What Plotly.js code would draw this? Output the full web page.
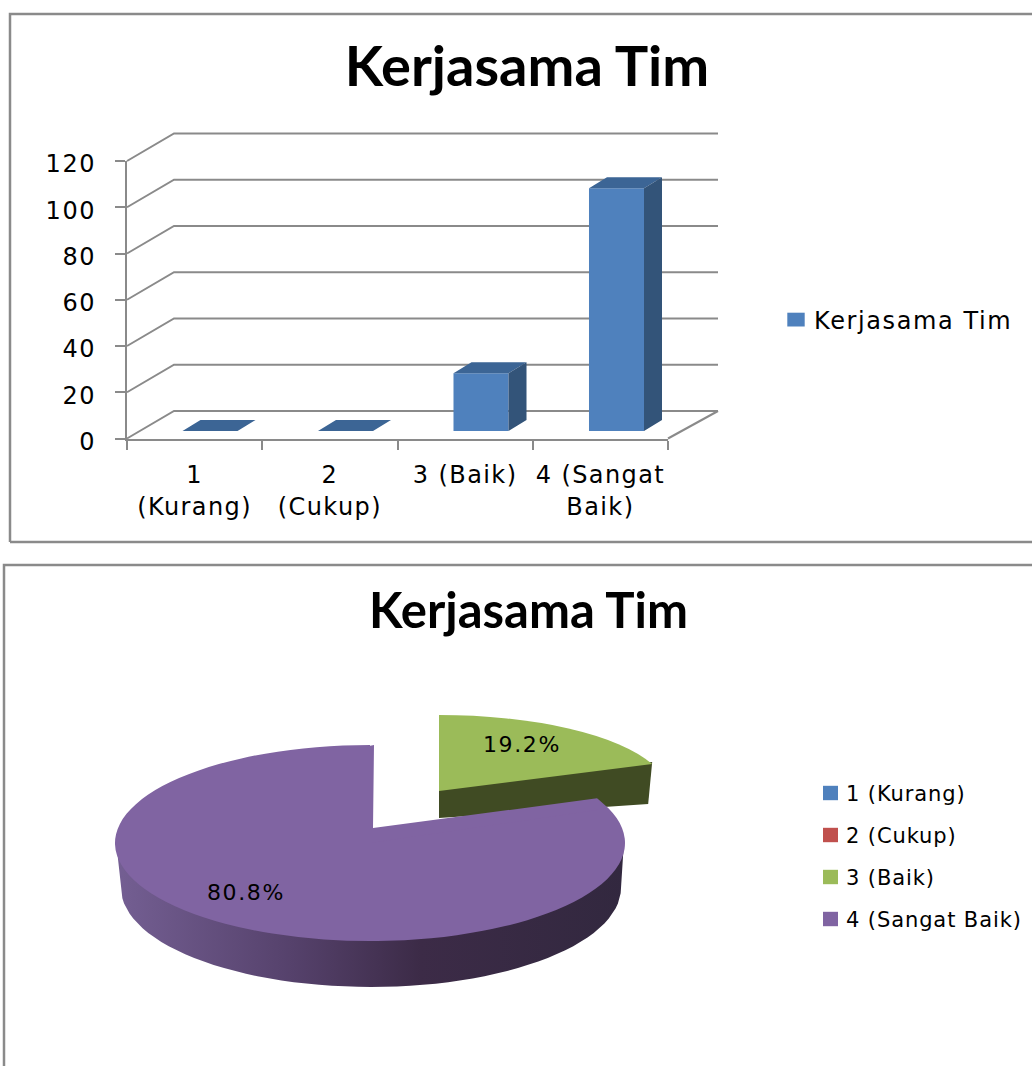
<!DOCTYPE html>
<html>
<head>
<meta charset="utf-8">
<script src="https://cdn.plot.ly/plotly-3.0.1.min.js"></script>
<style>html,body{margin:0;padding:0;background:#fff}#c{width:1032px;height:1066px}</style>
</head>
<body>
<div id="c"></div>
<script>
var title = 'Kerjasama Tim';
var categories = ['1 (Kurang)', '2 (Cukup)', '3 (Baik)', '4 (Sangat Baik)'];
var tickLabels = ['1<br>(Kurang)', '2<br>(Cukup)', '3 (Baik)', '4 (Sangat<br>Baik)'];
var values = [0, 0, 25, 105];
var yTicks = [0, 20, 40, 60, 80, 100, 120];
var sliceColors = ['#4F81BD', '#C0504D', '#9BBB59', '#8064A2'];

var W = 1032, H = 1066, FONT = 'DejaVu Sans, sans-serif', GRAY = '#8A8A8A';
var idx = categories.map(function (_, i) { return i; });
var total = values.reduce(function (a, b) { return a + b; }, 0);
var pct = values.map(function (v) { return (v / total * 100).toFixed(1) + '%'; });

// bar chart geometry, px
var FX0 = 127, FX1 = 668, FY0 = 438.5, FY1 = 161, WDX = 47, WDY = -27.5, WRIGHT = 718;
var BX0 = 142.25, BX1 = 684.25, BY0 = 431, BY1 = 153.5, BW = 0.406, DX = 18 / 135.5, DY = 11 / 2.3125;
var py = function (v) { return FY0 + (FY1 - FY0) * v / 120; };

// wall lines of the box
var gx = [], gy = [];
yTicks.forEach(function (v) {
  gx.push(FX0, FX0 + WDX, WRIGHT, null);
  gy.push(py(v), py(v) + WDY, py(v) + WDY, null);
});
gx.push(FX1, WRIGHT); gy.push(FY0, FY0 + WDY);

// pie geometry, px
var PURPLE = { cx: 370, cy: 843, rx: 255, ry: 98 };
var GREEN = { cx: 439, cy: 791, rx: 228, ry: 76 };
var P_APEX = [373, 828], NOTCH_ANGLE = Math.asin(227 / 255);
var ang = values[2] / total * 2 * Math.PI;
function ell(e, t) { return [e.cx + e.rx * Math.sin(t), e.cy - e.ry * Math.cos(t)]; }
function arc(e, a, b, n) { var o = []; for (var i = 0; i <= n; i++) o.push(ell(e, a + (b - a) * i / n)); return o; }
function xs(p) { return p.map(function (q) { return q[0]; }); }
function ys(p) { return p.map(function (q) { return q[1]; }); }

// side wall runs a little under the top face so no seam shows
var WALL_T = { cx: 370, cy: 841, rx: 254, ry: 94 };
var WALL_B = { cx: 371, cy: 888, rx: 250, ry: 99 };
var wall = arc(WALL_T, Math.PI / 2, 3 * Math.PI / 2, 60).concat(arc(WALL_B, 3 * Math.PI / 2, Math.PI / 2, 60));
var gEnd = ell(GREEN, ang);
var greenWall = [[GREEN.cx, GREEN.cy - 2], [gEnd[0], gEnd[1] - 2], [gEnd[0] - 4, gEnd[1] + 40], [GREEN.cx, GREEN.cy + 27]];
var pEnd = ell(PURPLE, ang);
// the top face has its apex above the ellipse centre (perspective): fill that part beneath the slice
var patch = [[PURPLE.cx - 6, PURPLE.cy - PURPLE.ry + 2], [P_APEX[0] + 1, PURPLE.cy - PURPLE.ry], P_APEX]
  .concat(arc(PURPLE, NOTCH_ANGLE, ang, 8))
  .concat([[pEnd[0] - 6, pEnd[1] + 10], [PURPLE.cx - 6, PURPLE.cy + 10]]);

function stage(x, y, extra) {
  return Object.assign({ type: 'scatter', x: x, y: y, xaxis: 'x', yaxis: 'y', showlegend: false, hoverinfo: 'skip', mode: 'lines', line: { width: 0 } }, extra);
}
function facePoly(fn) {
  var x = [], y = [];
  idx.forEach(function (i) { fn(i, values[i]).forEach(function (p) { x.push(p[0]); y.push(p[1]); }); x.push(null); y.push(null); });
  return { x: x, y: y };
}
var topF = facePoly(function (i, v) {
  var a = i - BW / 2, b = i + BW / 2;
  return [[a, v], [b, v], [b + DX, v + DY], [a + DX, v + DY], [a, v]];
});
var sideF = facePoly(function (i, v) {
  var b = i + BW / 2;
  return [[b, 0], [b + DX, DY], [b + DX, v + DY], [b, v], [b, 0]];
});

var data = [
  stage(gx, gy, { line: { color: GRAY, width: 2 } }),
  stage(xs(greenWall), ys(greenWall), { fill: 'toself', fillcolor: '#404B23' }),
  stage(xs(wall), ys(wall), { fill: 'toself', fillcolor: '#55416B',
    fillgradient: { type: 'horizontal', colorscale: [[0, '#745F93'], [0.35, '#55416B'], [0.6, '#3C2B47'], [1, '#32283F']] } }),
  stage(xs(patch), ys(patch), { fill: 'toself', fillcolor: sliceColors[3] }),
  { type: 'scatter', x: [-0.5, 3.5], y: [0, 0], xaxis: 'x2', yaxis: 'y2', mode: 'lines', line: { width: 0 }, showlegend: false, hoverinfo: 'skip' },
  { type: 'bar', name: title, x: idx, y: values, width: BW, xaxis: 'x3', yaxis: 'y3', marker: { color: '#4F81BD', line: { width: 0 } }, legend: 'legend' },
  { type: 'scatter', x: topF.x, y: topF.y, xaxis: 'x3', yaxis: 'y3', mode: 'lines', line: { width: 0 }, fill: 'toself', fillcolor: '#3C6595', showlegend: false, hoverinfo: 'skip' },
  { type: 'scatter', x: sideF.x, y: sideF.y, xaxis: 'x3', yaxis: 'y3', mode: 'lines', line: { width: 0 }, fill: 'toself', fillcolor: '#335479', showlegend: false, hoverinfo: 'skip' },
  { type: 'pie', labels: categories, values: values, sort: false, rotation: 0, direction: 'clockwise', pull: [0, 0, 0.3, 0],
    domain: { x: [0.2, 0.8], y: [0.2, 0.8] }, textinfo: 'none', marker: { colors: sliceColors, line: { width: 0 } }, legend: 'legend2', showlegend: true }
];

var shapes = ['M10,542L10,14L' + (W + 4) + ',14', 'M10,542L' + (W + 4) + ',542', 'M4,' + (H + 4) + 'L4,565L' + (W + 4) + ',565'].map(function (p) {
  return { type: 'path', xref: 'x', yref: 'y', layer: 'below', line: { color: GRAY, width: 2.5 }, path: p };
});

function fx(v) { return v / W; }
function fy(v) { return 1 - v / H; }
var hidden = { visible: false, fixedrange: true };

var layout = {
  width: W, height: H, autosize: false, margin: { l: 0, r: 0, t: 0, b: 0, pad: 0 },
  paper_bgcolor: '#fff', plot_bgcolor: 'rgba(0,0,0,0)', font: { family: FONT, color: '#000' },
  title: { text: '<b>' + title + '</b>', x: fx(527), xref: 'paper', xanchor: 'center', y: fy(66), yref: 'paper', yanchor: 'middle',
    font: { family: 'Lato', size: 56, color: '#000' } },
  xaxis: Object.assign({ domain: [0, 1], range: [0, W] }, hidden),
  yaxis: Object.assign({ domain: [0, 1], range: [H, 0] }, hidden),
  xaxis2: { domain: [fx(FX0), fx(FX1)], range: [-0.5, 3.5], anchor: 'y2', fixedrange: true, showgrid: false, zeroline: false,
    showline: true, linecolor: GRAY, linewidth: 2, tickmode: 'array', tickvals: idx, ticktext: tickLabels, tickangle: 0, ticks: '',
    ticklabelstandoff: 14, tickfont: { family: FONT, size: 24, color: '#000' },
    minor: { tickmode: 'array', tickvals: [-0.5, 0.5, 1.5, 2.5, 3.5], ticks: 'outside', ticklen: 9, tickwidth: 2, tickcolor: GRAY, showgrid: false } },
  yaxis2: { domain: [fy(FY0), fy(FY1)], range: [0, 120], anchor: 'x2', fixedrange: true, showgrid: false, zeroline: false,
    showline: true, linecolor: GRAY, linewidth: 2, tickmode: 'array', tickvals: yTicks, ticks: 'outside', ticklen: 10, tickwidth: 2, tickcolor: GRAY,
    ticklabelstandoff: 14, tickfont: { family: FONT, size: 24, color: '#000' } },
  xaxis3: Object.assign({ domain: [fx(BX0), fx(BX1)], range: [-0.5, 3.5], anchor: 'y3' }, hidden),
  yaxis3: Object.assign({ domain: [fy(BY0), fy(BY1)], range: [0, 120], anchor: 'x3' }, hidden),
  showlegend: true,
  legend: { x: fx(774), xanchor: 'left', y: fy(320), yanchor: 'middle', bgcolor: 'rgba(0,0,0,0)', font: { family: FONT, size: 24, color: '#000' } },
  legend2: { x: fx(806), xanchor: 'left', y: fy(780), yanchor: 'top', bgcolor: 'rgba(0,0,0,0)', traceorder: 'normal', font: { family: FONT, size: 21, color: '#000' } },
  shapes: shapes,
  annotations: [
    { xref: 'paper', yref: 'paper', x: fx(528), y: fy(609), text: '<b>' + title + '</b>', showarrow: false, xanchor: 'center', yanchor: 'middle', font: { family: 'Lato', size: 49, color: '#000' } },
    { xref: 'x', yref: 'y', x: 522, y: 744, text: pct[2], showarrow: false, font: { family: FONT, size: 22, color: '#000' } },
    { xref: 'x', yref: 'y', x: 246, y: 892, text: pct[3], showarrow: false, font: { family: FONT, size: 22, color: '#000' } }
  ]
};

var gd = document.getElementById('c');
function spacing(root, sel, px) {
  (root || gd).querySelectorAll(sel).forEach(function (t) { t.style.letterSpacing = px + 'px'; });
}
function finish() {
  var targets = { 2: GREEN, 3: PURPLE };
  var pieCd = gd.calcdata.filter(function (c) { return c[0].trace.type === 'pie'; })[0];
  var r = pieCd[0].r;
  gd.querySelectorAll('.pielayer g.slice').forEach(function (s) {
    var pt = s.__data__, e = pt && targets[pt.i];
    if (!e) return;
    var a = e.rx / r, d = e.ry / r;
    s.setAttribute('transform', 'matrix(' + a + ' 0 0 ' + d + ' ' + (e.cx - pt.cxFinal * a) + ' ' + (e.cy - pt.cyFinal * d) + ')');
  });
  var l1 = gd.querySelector('g.legend'), l2 = gd.querySelector('g.legend2');
  [l1, l2].forEach(function (l) {
    if (!l) return;
    l.removeAttribute('clip-path');
    l.querySelectorAll('[clip-path]').forEach(function (b) { b.removeAttribute('clip-path'); b.style.clipPath = 'none'; });
    l.querySelectorAll('[style*="clip-path"]').forEach(function (b) { b.style.clipPath = 'none'; });
  });
  l1.querySelectorAll('.legendpoints path').forEach(function (p) {
    p.setAttribute('transform', 'translate(22,0) scale(1.45,1.15)');
  });
  if (l2) {
    l2.querySelectorAll('.traces').forEach(function (t, i) {
      t.setAttribute('transform', 'translate(0,' + (13 + i * 42) + ')');
      t.querySelectorAll('.legendpoints path').forEach(function (p) {
        p.setAttribute('transform', 'translate(24.5,0) scale(1.25,1.2)');
      });
    });
    spacing(l2, 'text', 0.9);
  }
  // the reference is a horizontally stretched screenshot: open the small text up to the same width
  spacing(l1, 'text', 1.6);
  spacing(gd, '.x2tick text', 1.4);
  spacing(gd, '.y2tick text', 1.6);
  var ann = gd.querySelectorAll('.annotation');
  [1, 2].forEach(function (i) { if (ann[i]) { var t = ann[i].querySelector('text'); if (t) t.style.letterSpacing = '1.6px'; } });
  gd.querySelectorAll('.y2tick text').forEach(function (t) {
    t.setAttribute('y', (parseFloat(t.getAttribute('y')) || 0) + 3);
  });
}
Plotly.newPlot(gd, data, layout, { displayModeBar: false, staticPlot: true }).then(finish);
</script>
</body>
</html>
